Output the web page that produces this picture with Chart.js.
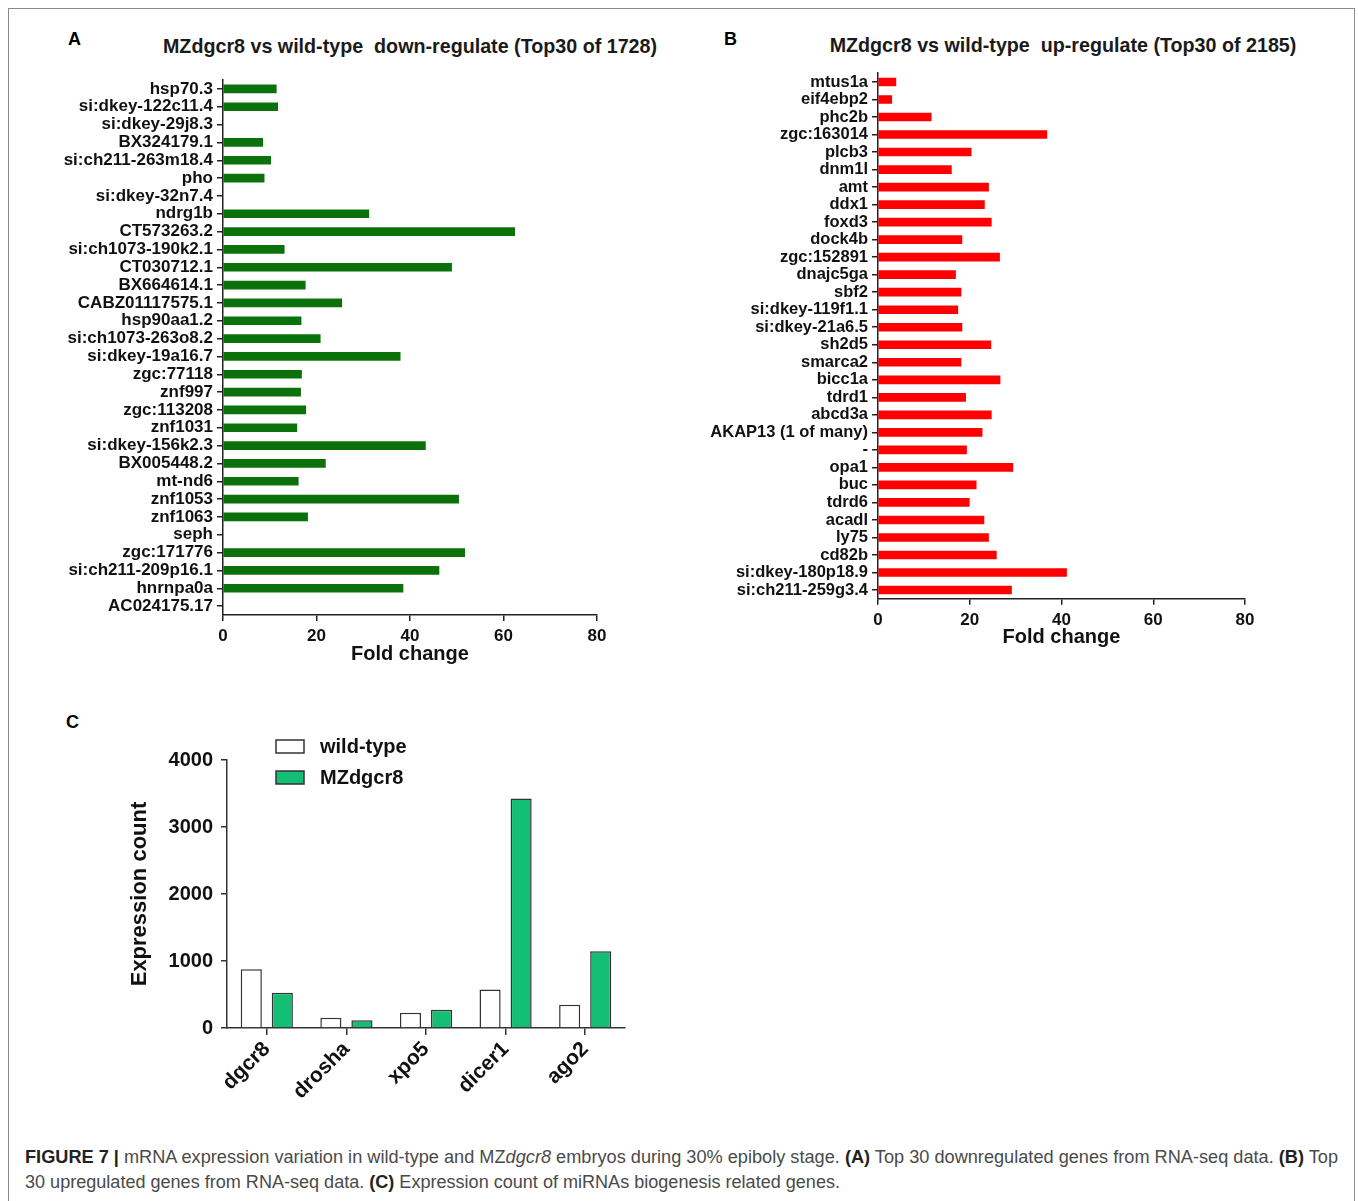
<!DOCTYPE html>
<html>
<head>
<meta charset="utf-8">
<title>Figure 7</title>
<script src="https://cdn.jsdelivr.net/npm/chart.js@4.4.0/dist/chart.umd.min.js"></script>
<style>
  html, body { margin: 0; padding: 0; background: #fff; }
  body { width: 1358px; height: 1201px; position: relative; overflow: hidden;
         font-family: 'Liberation Sans', Arial, Helvetica, sans-serif; }
  .frame { position: absolute; left: 8px; top: 8px; width: 1347px; height: 1220px;
           border: 1.5px solid #8a8a8a; box-sizing: border-box; }
  canvas { position: absolute; }
  .panel { position: absolute; font-weight: bold; font-size: 18px; line-height: 1; color: #000; }
  .title { position: absolute; font-weight: bold; font-size: 19.7px; line-height: 1; color: #1a1a1a;
           white-space: pre; transform: translateX(-50%); }
  .cap { position: absolute; left: 25px; font-size: 17.5px; line-height: 1; color: #4a4a4a;
         white-space: pre; transform-origin: 0 0; }
  .cap b { color: #222; }
</style>
</head>
<body>
<div class="frame"></div>

<div class="panel" style="left:68px; top:30px;">A</div>
<div class="panel" style="left:724px; top:30px;">B</div>
<div class="panel" style="left:66px; top:713px;">C</div>

<div class="title" style="left:410px; top:37px;">MZdgcr8 vs wild-type  down-regulate (Top30 of 1728)</div>
<div class="title" style="left:1063px; top:36px;">MZdgcr8 vs wild-type  up-regulate (Top30 of 2185)</div>

<canvas id="downChart" width="680" height="680" style="left:0; top:0;"></canvas>
<canvas id="upChart" width="678" height="680" style="left:680px; top:0;"></canvas>
<canvas id="mirChart" width="680" height="440" style="left:0; top:690px;"></canvas>

<div class="cap" data-w="1313" style="top:1149px;"><b>FIGURE 7 |</b> mRNA expression variation in wild-type and MZ<i>dgcr8</i> embryos during 30% epiboly stage. <b>(A)</b> Top 30 downregulated genes from RNA-seq data. <b>(B)</b> Top</div>
<div class="cap" data-w="815" style="top:1174px;">30 upregulated genes from RNA-seq data. <b>(C)</b> Expression count of miRNAs biogenesis related genes.</div>

<script>
// Top 30 down-regulated genes (MZdgcr8 vs wild-type), fold change
const downGenes = [
  'hsp70.3', 'si:dkey-122c11.4', 'si:dkey-29j8.3', 'BX324179.1', 'si:ch211-263m18.4',
  'pho', 'si:dkey-32n7.4', 'ndrg1b', 'CT573263.2', 'si:ch1073-190k2.1',
  'CT030712.1', 'BX664614.1', 'CABZ01117575.1', 'hsp90aa1.2', 'si:ch1073-263o8.2',
  'si:dkey-19a16.7', 'zgc:77118', 'znf997', 'zgc:113208', 'znf1031',
  'si:dkey-156k2.3', 'BX005448.2', 'mt-nd6', 'znf1053', 'znf1063',
  'seph', 'zgc:171776', 'si:ch211-209p16.1', 'hnrnpa0a', 'AC024175.17'
];
const downFold = [
  11.4, 11.7, null, 8.5, 10.2,
  8.8, null, 31.2, 62.4, 13.1,
  48.9, 17.6, 25.4, 16.7, 20.8,
  37.9, 16.8, 16.6, 17.7, 15.8,
  43.3, 21.9, 16.1, 50.4, 18.1,
  null, 51.7, 46.2, 38.5, null
];

// Top 30 up-regulated genes (MZdgcr8 vs wild-type), fold change
const upGenes = [
  'mtus1a', 'eif4ebp2', 'phc2b', 'zgc:163014', 'plcb3',
  'dnm1l', 'amt', 'ddx1', 'foxd3', 'dock4b',
  'zgc:152891', 'dnajc5ga', 'sbf2', 'si:dkey-119f1.1', 'si:dkey-21a6.5',
  'sh2d5', 'smarca2', 'bicc1a', 'tdrd1', 'abcd3a',
  'AKAP13 (1 of many)', '-', 'opa1', 'buc', 'tdrd6',
  'acadl', 'ly75', 'cd82b', 'si:dkey-180p18.9', 'si:ch211-259g3.4'
];
const upFold = [
  3.9, 3.0, 11.6, 36.8, 20.3,
  16.0, 24.1, 23.2, 24.7, 18.3,
  26.5, 16.9, 18.1, 17.4, 18.3,
  24.6, 18.1, 26.6, 19.1, 24.7,
  22.7, 19.3, 29.4, 21.4, 19.9,
  23.1, 24.1, 25.8, 41.1, 29.1
];

// Expression count of miRNA biogenesis genes
const mirGenes = ['dgcr8', 'drosha', 'xpo5', 'dicer1', 'ago2'];
const wildTypeCount = [877, 154, 228, 575, 347];
const mzdgcr8Count = [525, 114, 273, 3425, 1145];

const FONT = "'Liberation Sans', Arial, Helvetica, sans-serif";
Chart.defaults.font.family = FONT;
Chart.defaults.color = '#111';

function foldChart(id, labels, values, color, o) {
  return new Chart(document.getElementById(id), {
    type: 'bar',
    data: { labels: labels, datasets: [{ data: values, backgroundColor: color, barThickness: 8 }] },
    options: {
      indexAxis: 'y',
      responsive: false,
      animation: false,
      layout: { padding: { left: 0, top: o.top, right: o.right, bottom: o.bottom } },
      plugins: { legend: { display: false }, tooltip: { enabled: false } },
      scales: {
        x: {
          min: 0, max: 80,
          ticks: { stepSize: 20, font: { size: 17, weight: 'bold' }, padding: 5, color: '#111' },
          grid: { drawOnChartArea: false, tickLength: 6, color: '#222', lineWidth: 1.5 },
          border: { color: '#222', width: 1.5 },
          title: { display: true, text: 'Fold change', color: '#111',
                   font: { size: 20, weight: 'bold' }, padding: { top: 0, bottom: o.titlePad } },
          afterFit: s => { s.height = 55; }
        },
        y: {
          ticks: { autoSkip: false, font: { size: o.labelSize, weight: 'bold' }, padding: 4, color: '#111' },
          grid: { offset: false, drawOnChartArea: false, tickLength: 6, color: '#222', lineWidth: 1.5 },
          border: { color: '#222', width: 1.5 },
          afterFit: s => { s.width = o.axisLeft; }
        }
      }
    }
  });
}

foldChart('downChart', downGenes, downFold, '#0b720b',
  { top: 80, right: 83, bottom: 10, titlePad: 4, labelSize: 17, axisLeft: 223 });
foldChart('upChart', upGenes, upFold, '#ff0000',
  { top: 73.2, right: 113, bottom: 26.2, titlePad: 4.8, labelSize: 16.5, axisLeft: 198 });

// Key for the grouped expression chart, drawn from the dataset styles
const seriesKey = {
  id: 'seriesKey',
  afterDraw(chart) {
    const ctx = chart.ctx;
    ctx.save();
    chart.data.datasets.forEach((ds, i) => {
      const y = 50 + i * 31;
      ctx.fillStyle = ds.backgroundColor;
      ctx.fillRect(276, y, 28, 13);
      ctx.strokeStyle = ds.borderColor;
      ctx.lineWidth = 1.5;
      ctx.strokeRect(276, y, 28, 13);
      ctx.fillStyle = '#111';
      ctx.font = 'bold 20px ' + FONT;
      ctx.textBaseline = 'middle';
      ctx.fillText(ds.label, 320, y + 7);
    });
    ctx.restore();
  }
};

new Chart(document.getElementById('mirChart'), {
  type: 'bar',
  data: {
    labels: mirGenes,
    datasets: [
      { label: 'wild-type', data: wildTypeCount, backgroundColor: '#ffffff', borderColor: '#333',
        borderWidth: 1.5, categoryPercentage: 0.78, barPercentage: 0.68 },
      { label: 'MZdgcr8', data: mzdgcr8Count, backgroundColor: '#12bf74', borderColor: '#3a2f33',
        borderWidth: 1.5, categoryPercentage: 0.78, barPercentage: 0.68 }
    ]
  },
  options: {
    responsive: false,
    animation: false,
    layout: { padding: { left: 0, top: 70, right: 55, bottom: 0 } },
    plugins: { legend: { display: false }, tooltip: { enabled: false } },
    scales: {
      x: {
        ticks: { font: { size: 21, weight: 'bold' }, minRotation: 45, maxRotation: 45, padding: 2, color: '#111' },
        grid: { offset: false, drawOnChartArea: false, tickLength: 7, color: '#333', lineWidth: 1.5 },
        border: { color: '#333', width: 1.5 },
        afterFit: s => { s.height = 102; }
      },
      y: {
        min: 0, max: 4000,
        ticks: { stepSize: 1000, font: { size: 20, weight: 'bold' }, padding: 8, color: '#111',
                 callback: v => String(v) },
        grid: { drawOnChartArea: false, tickLength: 6, color: '#333', lineWidth: 1.5 },
        border: { color: '#333', width: 1.5 },
        title: { display: true, text: 'Expression count', color: '#111',
                 font: { size: 22, weight: 'bold' }, padding: { top: 127, bottom: 0 } },
        afterFit: s => { s.width = 227; }
      }
    }
  },
  plugins: [seriesKey]
});

// condense caption lines to their set widths
document.querySelectorAll('.cap').forEach(el => {
  const w = el.getBoundingClientRect().width;
  const target = parseFloat(el.dataset.w);
  el.style.transform = 'scaleX(' + (target / w) + ')';
});
</script>
</body>
</html>
